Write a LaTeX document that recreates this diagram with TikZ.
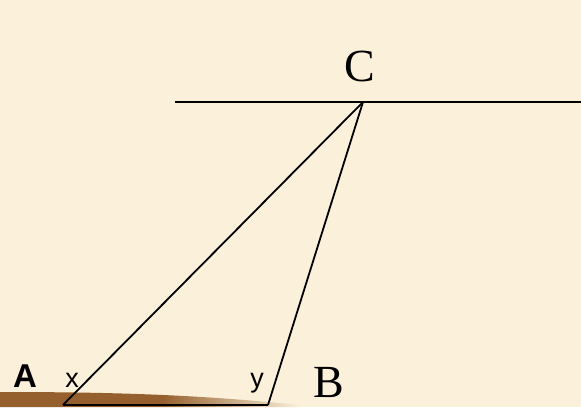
\documentclass[tikz,border=0pt]{standalone}
\usepackage{fontspec}
\setmainfont{Liberation Serif}
\newfontfamily\arialfont{Liberation Sans}
\usetikzlibrary{calc}
\definecolor{parchment}{RGB}{251,240,218}
\definecolor{woodbrown}{RGB}{150,96,46}
\pgfdeclarehorizontalshading{brownfade}{100bp}{color(0bp)=(woodbrown); color(25bp)=(woodbrown);
  color(52bp)=(woodbrown); color(75bp)=(parchment); color(100bp)=(parchment)}

\begin{document}
\begin{tikzpicture}[x=1pt, y=-1pt,
    seg/.style={black, line width=1.8pt},
    serifname/.style={font=\fontsize{46}{50}\selectfont, anchor=base},
    sansname/.style={font=\arialfont\bfseries\fontsize{33}{36}\selectfont, anchor=base},
    anglename/.style={font=\arialfont\fontsize{27}{30}\selectfont, anchor=base}]
    % background
    \fill[parchment] (0,0) rectangle (581,407);
    \useasboundingbox (0,0) rectangle (581,407);
    % brown stroke at the bottom
    \shade[shading=brownfade]
      (0,392) .. controls (120,392) and (200,395) .. (300,405) -- (300,407) -- (0,407) -- cycle;
    % vertices
    \coordinate (C) at (363,102);
    \coordinate (A) at (63,405);
    \coordinate (B) at (268,405);
    \coordinate (L) at (175,102);
    \coordinate (R) at (581,102);
    % line through C
    \draw[seg, line width=2pt] (L) -- (R);
    % triangle
    \draw[seg] (C) -- (A);
    \draw[seg] (C) -- (B);
    \draw[seg, line width=2.2pt] (A) -- (B);
    % labels
    \node[serifname] (labC) at (360,81) {C};
    \node[serifname] (labB) at (329,397) {B};
    \node[sansname] (labA) at (25,387) {A};
    \node[anglename] (labx) at (72,387) {x};
    \node[anglename] (laby) at (257,387) {y};
\end{tikzpicture}
\end{document}
